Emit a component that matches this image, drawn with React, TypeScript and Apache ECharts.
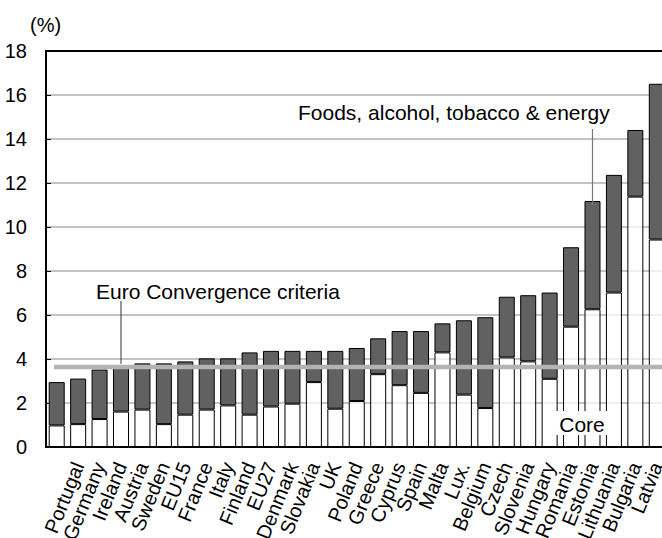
import { useEffect, useRef } from "react";
import * as echarts from "echarts";

// Annual HICP inflation by country (%), split into core and
// foods/alcohol/tobacco/energy contributions.
const countries = [
  "", "Portugal", "Germany", "Ireland", "Austria", "Sweden", "EU15", "France",
  "Italy", "Finland", "EU27", "Denmark", "Slovakia", "UK", "Poland", "Greece",
  "Cyprus", "Spain", "Malta", "Lux.", "Belgium", "Czech", "Slovenia", "Hungary",
  "Romania", "Estonia", "Lithuania", "Bulgaria", "Latvia",
];

// Headline inflation (top of each stacked bar)
const headline = [
  2.95, 3.11, 3.52, 3.62, 3.8, 3.8, 3.89, 4.03, 4.03, 4.3, 4.37, 4.37, 4.37,
  4.37, 4.5, 4.94, 5.27, 5.27, 5.62, 5.76, 5.9, 6.83, 6.9, 7.02, 9.08, 11.18,
  12.37, 14.41, 16.51,
];

// Core inflation (white lower segment)
const core = [
  0.98, 1.04, 1.27, 1.61, 1.7, 1.04, 1.47, 1.7, 1.89, 1.47, 1.84, 1.97, 2.95,
  1.74, 2.09, 3.31, 2.81, 2.46, 4.3, 2.38, 1.77, 4.07, 3.89, 3.1, 5.47, 6.26,
  7.02, 11.38, 9.43,
];

const yTicks = [0, 2, 4, 6, 8, 10, 12, 14, 16, 18];
const convergenceCriterion = 3.64;

const FONT = "'Liberation Sans', Arial, Helvetica, sans-serif";

export default function App() {
  const ref = useRef<HTMLDivElement>(null);

  useEffect(() => {
    const chart = echarts.init(ref.current!, null, { renderer: "svg" });
    const other = headline.map((v, i) => +(v - core[i]).toFixed(2));

    chart.setOption({
      animation: false,
      backgroundColor: "#ffffff",
      textStyle: { fontFamily: FONT },
      grid: {
        left: 46,
        top: 51,
        width: 621.5,
        height: 396,
        outerBoundsMode: "none",
        containLabel: false,
        show: true,
        borderColor: "#000",
        borderWidth: 2,
        backgroundColor: "transparent",
      },
      xAxis: {
        type: "category",
        data: countries,
        axisLine: { lineStyle: { color: "#000", width: 2 } },
        axisTick: { inside: true, length: 5, lineStyle: { color: "#000" } },
        axisLabel: {
          interval: 0,
          rotate: 68,
          margin: 16,
          fontSize: 20,
          color: "#000",
          fontFamily: FONT,
        },
      },
      yAxis: {
        type: "value",
        min: yTicks[0],
        max: yTicks[yTicks.length - 1],
        interval: 2,
        axisLine: { show: true, lineStyle: { color: "#000", width: 2 } },
        axisTick: { show: true, inside: true, length: 5, lineStyle: { color: "#000" } },
        axisLabel: { margin: 19, fontSize: 20, color: "#000", fontFamily: FONT },
        splitLine: {
          show: true,
          showMinLine: false,
          showMaxLine: false,
          lineStyle: { color: "#c4c4c4", width: 2 },
        },
      },
      series: [
        {
          name: "Core",
          type: "bar",
          stack: "hicp",
          barWidth: 16,
          data: core,
          itemStyle: {
            color: "rgba(255,255,255,0.72)",
            borderColor: "#000",
            borderWidth: 1,
          },
        },
        {
          name: "Foods, alcohol, tobacco & energy",
          type: "bar",
          stack: "hicp",
          barWidth: 16,
          data: other,
          itemStyle: { color: "#616161", borderColor: "#000", borderWidth: 1 },
        },
      ],
    });

    const px = (i: number, v: number) =>
      chart.convertToPixel({ gridIndex: 0 }, [i, v]) as number[];

    const lineY = px(0, convergenceCriterion)[1];
    const euroAnchor = px(countries.indexOf("Ireland"), convergenceCriterion);
    const estIdx = countries.indexOf("Estonia");
    const estTop = px(estIdx, headline[estIdx]);

    chart.setOption({
      graphic: [
        {
          type: "line",
          z: 50,
          shape: { x1: 54, y1: lineY, x2: 662, y2: lineY },
          style: { stroke: "#b3b3b3", lineWidth: 4.5 },
        },
        {
          type: "line",
          z: 51,
          shape: { x1: euroAnchor[0], y1: 301, x2: euroAnchor[0], y2: lineY - 3 },
          style: { stroke: "#333", lineWidth: 1 },
        },
        {
          type: "text",
          z: 51,
          x: 96,
          y: 291,
          style: {
            text: "Euro Convergence criteria",
            fontSize: 21,
            fontFamily: FONT,
            fill: "#000",
            verticalAlign: "middle",
          },
        },
        {
          type: "line",
          z: 51,
          shape: { x1: estTop[0], y1: 129, x2: estTop[0], y2: estTop[1] + 4 },
          style: { stroke: "#777", lineWidth: 1.2 },
        },
        {
          type: "text",
          z: 51,
          x: 298,
          y: 112,
          style: {
            text: "Foods, alcohol, tobacco & energy",
            fontSize: 21,
            fontFamily: FONT,
            fill: "#000",
            verticalAlign: "middle",
          },
        },
        {
          type: "rect",
          z: 51,
          shape: { x: 547, y: 411, width: 70, height: 24 },
          style: { fill: "#ffffff" },
        },
        {
          type: "text",
          z: 52,
          x: 582,
          y: 424,
          style: {
            text: "Core",
            fontSize: 21,
            fontFamily: FONT,
            fill: "#000",
            align: "center",
            verticalAlign: "middle",
          },
        },
        {
          type: "text",
          z: 52,
          x: 30,
          y: 25,
          style: {
            text: "(%)",
            fontSize: 20,
            fontFamily: FONT,
            fill: "#000",
            verticalAlign: "middle",
          },
        },
      ],
    });

    return () => chart.dispose();
  }, []);

  return (
    <div
      ref={ref}
      style={{
        position: "fixed",
        left: 0,
        top: 0,
        width: 662,
        height: 538,
        background: "#fff",
      }}
    />
  );
}
